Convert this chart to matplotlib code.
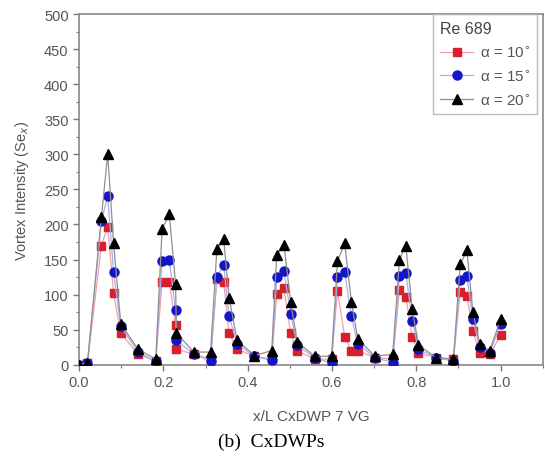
import matplotlib
matplotlib.use("Agg")
import matplotlib.pyplot as plt
from matplotlib.ticker import MultipleLocator

x = [0.0, 0.020, 0.053, 0.068, 0.082, 0.099, 0.140, 0.182, 0.197, 0.214, 0.229, 0.231,
     0.272, 0.312, 0.327, 0.343, 0.356, 0.375, 0.416, 0.457, 0.469, 0.486, 0.502, 0.517,
     0.559, 0.599, 0.613, 0.630, 0.646, 0.661, 0.702, 0.744, 0.760, 0.775, 0.790, 0.805,
     0.847, 0.888, 0.904, 0.920, 0.934, 0.950, 0.974, 1.0]

alpha10 = [0, 2, 170, 197, 102, 45, 15, 5, 118, 118, 57, 22,
           15, 8, 122, 118, 45, 22, 12, 8, 101, 109, 45, 20,
           8, 8, 105, 40, 20, 20, 10, 8, 106, 97, 40, 17,
           10, 8, 103, 98, 48, 17, 15, 42]

alpha15 = [0, 2, 205, 240, 132, 55, 18, 5, 148, 150, 78, 35,
           15, 5, 125, 142, 69, 30, 12, 6, 125, 133, 73, 28,
           10, 2, 125, 132, 69, 30, 10, 3, 126, 131, 63, 22,
           10, 5, 121, 126, 65, 25, 17, 58]

alpha20 = [0, 3, 210, 300, 173, 58, 22, 8, 193, 215, 115, 45,
           18, 18, 165, 180, 95, 35, 13, 20, 157, 171, 90, 33,
           12, 12, 148, 173, 90, 37, 12, 15, 150, 170, 80, 28,
           10, 8, 143, 163, 75, 30, 20, 65]

labels = ['α = 10$^{\\circ}$', 'α = 15$^{\\circ}$', 'α = 20$^{\\circ}$']

plt.rcParams['font.family'] = ['Liberation Sans', 'DejaVu Sans']

fig = plt.figure(figsize=(5.45, 4.6), dpi=100)
ax = fig.add_axes([0.145, 0.205, 0.851, 0.762])

ax.plot(x, alpha10, color='#f0a0a8', lw=0.9, marker='s', ms=6, mfc='#d8202c', mec='#d8202c', label=labels[0], zorder=3)
ax.plot(x, alpha15, color='#a8b0f0', lw=0.9, marker='o', ms=6.5, mfc='#1414c8', mec='#1414c8', label=labels[1], zorder=4)
ax.plot(x, alpha20, color='#909090', lw=0.9, marker='^', ms=7, mfc='black', mec='black', label=labels[2], zorder=5)

ax.set_xlim(0, 1.1)
ax.set_ylim(0, 500)
ax.xaxis.set_major_locator(MultipleLocator(0.2))
ax.xaxis.set_minor_locator(MultipleLocator(0.1))
ax.yaxis.set_major_locator(MultipleLocator(50))
ax.yaxis.set_minor_locator(MultipleLocator(25))
ax.tick_params(which='both', direction='out', colors='#777777', labelcolor='#555555')
ax.tick_params(which='major', length=4, width=1, labelsize=10.5)
ax.tick_params(which='minor', length=2.5, width=0.8)
ax.xaxis.set_major_formatter(matplotlib.ticker.FormatStrFormatter('%.1f'))
for s in ax.spines.values():
    s.set_color('#888888')
    s.set_linewidth(1.2)

ax.set_xlabel('x/L CxDWP 7 VG', fontsize=11, color='#555555', labelpad=14)
ax.set_ylabel('Vortex Intensity (Se$_x$)', fontsize=10.5, color='#555555', labelpad=9)

leg = ax.legend(title='Re 689', loc='upper right', bbox_to_anchor=(0.987, 1.0), borderaxespad=0,
                frameon=True, fontsize=11, title_fontsize=11.5, handlelength=2.2, borderpad=0.45,
                labelspacing=0.55, handletextpad=0.4, fancybox=False, alignment='left')
leg.get_frame().set_edgecolor('#aaaaaa')
leg.get_title().set_color('#444444')
for t in leg.get_texts():
    t.set_color('#555555')

fig.text(0.497, 0.039, '(b)  CxDWPs', fontsize=14, family='Liberation Serif', ha='center', va='center')

fig.savefig('out.png', dpi=100)
